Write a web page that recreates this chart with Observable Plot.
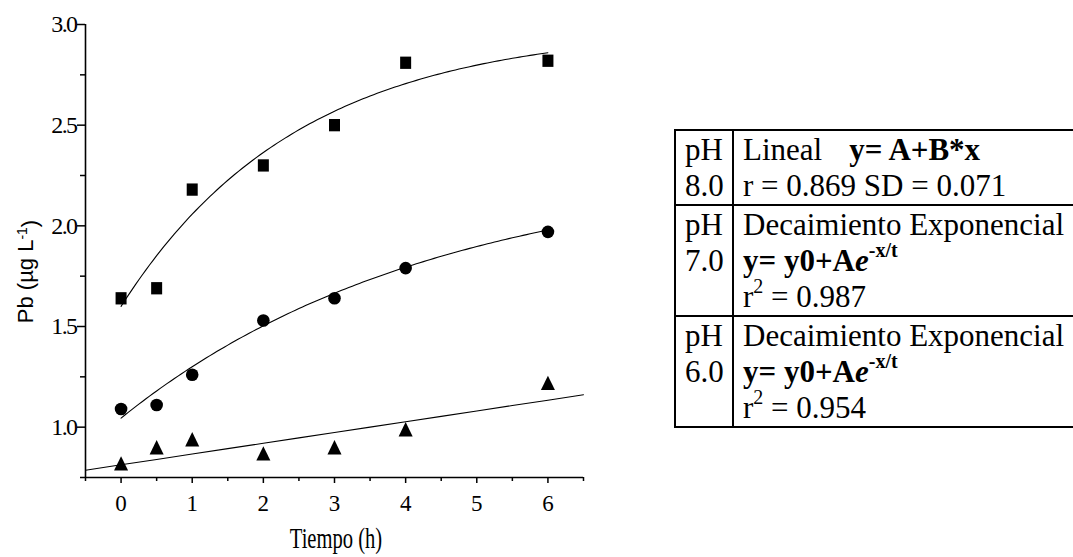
<!DOCTYPE html>
<html>
<head>
<meta charset="utf-8">
<script src="https://cdn.jsdelivr.net/npm/d3@7"></script>
<script src="https://cdn.jsdelivr.net/npm/@observablehq/plot@0.6"></script>
<style>
  html, body { margin: 0; padding: 0; background: #fff; }
  body { position: relative; width: 1073px; height: 557px; overflow: hidden; }
  #chart { position: absolute; left: 0; top: 0; }
  .tbl { position: absolute; left: 674px; top: 129px; width: 460px;
         font-family: "Liberation Serif", "Times New Roman", serif; font-size: 31px; color: #000;
         border-top: 2px solid #000; border-left: 2px solid #000; border-bottom: 2px solid #000; }
  .row { display: flex; box-sizing: border-box; }
  .row + .row { border-top: 2px solid #000; }
  .c1 { width: 58px; flex: none; box-sizing: border-box; border-right: 2px solid #000; padding-left: 9px; padding-top: 0.5px; }
  .c2 { padding-left: 9px; padding-top: 0.5px; }
  .ln { height: 36px; line-height: 36px; white-space: pre; }
  .b { font-weight: bold; }
  .sup { font-size: 20px; position: relative; top: -14px; line-height: 0; }
</style>
</head>
<body>
<div id="chart"></div>
<script>
// Time (h)
const tiempo = [0, 0.5, 1, 2, 3, 4, 6];
// Pb (µg L-1) per series
const pbPH6 = [1.64, 1.69, 2.18, 2.30, 2.50, 2.81, 2.82]; // squares
const pbPH7 = [1.09, 1.11, 1.26, 1.53, 1.64, 1.79, 1.97]; // circles
const pbPH8 = [0.82, 0.90, 0.94, 0.87, 0.90, 0.99, 1.22]; // triangles

// Fit parameters
const fitExpPH6 = [2.984, -1.384, 2.49]; // y0, A, t
const fitExpPH7 = [2.30, -1.255, 4.4];   // y0, A, t
const fitLinPH8 = [0.813, 0.0535];       // A, B

// Axis ticks
const xDomain = [-0.5, 6.5];
const yDomain = [0.75, 3.0];
const xMajor = [0, 1, 2, 3, 4, 5, 6];
const xMinor = [-0.5, 0.5, 1.5, 2.5, 3.5, 4.5, 5.5, 6.5];
const yMajor = [1.0, 1.5, 2.0, 2.5, 3.0];
const yMinor = [0.75, 1.25, 1.75, 2.25, 2.75];

// Table text
const phLabels = [["pH", "8.0"], ["pH", "7.0"], ["pH", "6.0"]];
const fitNames = ["Lineal", "Decaimiento Exponencial", "Decaimiento Exponencial"];
const fitStats = ["r = 0.869 SD = 0.071", "0.987", "0.954"];

const expCurve = ([y0, A, t]) => d3.range(0, 6.0001, 0.05).map(x => ({x, y: y0 + A * Math.exp(-x / t)}));
const linCurve = ([A, B]) => d3.range(xDomain[0], xDomain[1] + 0.0001, 0.5).map(x => ({x, y: A + B * x}));

// Marker shapes (box-centred, slightly taller than wide as in the original)
const tallSquare = { draw(ctx, size) { const k = Math.sqrt(size / Math.PI); const w = 0.86 * k, h = 0.96 * k;
  ctx.moveTo(-w, -h); ctx.lineTo(w, -h); ctx.lineTo(w, h); ctx.lineTo(-w, h); ctx.closePath(); } };
const tallTriangle = { draw(ctx, size) { const k = Math.sqrt(size / Math.PI); const w = 1.17 * k, h = 1.2 * k;
  ctx.moveTo(0, -h); ctx.lineTo(w, h); ctx.lineTo(-w, h); ctx.closePath(); } };

const serif = "'Liberation Serif', 'Times New Roman', serif";
const noText = () => "";

const plot = Plot.plot({
  width: 1073,
  height: 557,
  marginLeft: 85,
  marginRight: 490,
  marginTop: 24,
  marginBottom: 80,
  style: { background: "white", color: "black", overflow: "visible" },
  x: { domain: xDomain },
  y: { domain: yDomain },
  marks: [
    Plot.axisY({ ticks: yMajor, tickFormat: d3.format(".1f"), tickSize: 8, tickPadding: 1, label: null, strokeWidth: 1.5 }),
    Plot.axisY({ ticks: yMinor, tickFormat: noText, tickSize: 5, strokeWidth: 1.5, label: null }),
    Plot.axisX({ ticks: xMajor, tickFormat: d3.format("d"), tickSize: 6, tickPadding: 11, label: null, strokeWidth: 1.5 }),
    Plot.axisX({ ticks: xMinor, tickFormat: noText, tickSize: 4, strokeWidth: 1.5, label: null }),
    Plot.ruleX([xDomain[0]], { stroke: "black", strokeWidth: 1.6 }),
    Plot.ruleY([yDomain[0]], { stroke: "black", strokeWidth: 1.6 }),
    Plot.line(expCurve(fitExpPH6), { x: "x", y: "y", stroke: "black", strokeWidth: 1.1 }),
    Plot.line(expCurve(fitExpPH7), { x: "x", y: "y", stroke: "black", strokeWidth: 1.1 }),
    Plot.line(linCurve(fitLinPH8), { x: "x", y: "y", stroke: "black", strokeWidth: 1.1 }),
    Plot.dot(tiempo, { x: tiempo, y: pbPH6, symbol: tallSquare, r: 6.4, fill: "black", stroke: "none" }),
    Plot.dot(tiempo, { x: tiempo, y: pbPH7, symbol: "circle", r: 6.3, fill: "black", stroke: "none" }),
    Plot.dot(tiempo, { x: tiempo, y: pbPH8, symbol: tallTriangle, r: 6, fill: "black", stroke: "none" })
  ]
});
document.getElementById("chart").appendChild(plot);

// Serif tick labels (inline styles so nothing overrides them)
const svg = d3.select(plot);
svg.selectAll("text").each(function () {
  const t = this.textContent;
  const s = d3.select(this).style("font-family", serif).style("fill", "black");
  if (t.includes(".")) s.style("font-size", "24px").style("letter-spacing", "-1.6px");
  else s.style("font-size", "23px");
});

// Axis titles
const xr = plot.scale("x").range, yr = plot.scale("y").range;
svg.append("text")
  .attr("transform", `translate(${(xr[0] + xr[1]) / 2 + 2},${yr[0] + 71}) scale(0.71,1)`)
  .attr("text-anchor", "middle")
  .style("font-family", serif).style("font-size", "29px")
  .text("Tiempo (h)");
const yl = svg.append("text")
  .attr("transform", `translate(${xr[0] - 52},${(yr[0] + yr[1]) / 2 + 21}) rotate(-90)`)
  .attr("text-anchor", "middle")
  .style("font-family", "'Liberation Sans', Arial, sans-serif").style("font-size", "22px");
yl.append("tspan").text("Pb (\u00b5g L");
yl.append("tspan").attr("dy", "-0.45em").style("font-size", "14px").text("-1");
yl.append("tspan").attr("dy", "0.45em").text(")");

// Table
const tbl = document.createElement("div");
tbl.className = "tbl";
const rowsHtml = [
  `<div class="ln">${fitNames[0]}<span class="b" style="margin-left:27px">y= A+B*x</span></div><div class="ln">${fitStats[0]}</div>`,
  `<div class="ln">${fitNames[1]}</div><div class="ln"><span class="b">y= y0+A<i>e</i><span class="sup">-x/t</span></span></div><div class="ln">r<span class="sup">2</span> = ${fitStats[1]}</div>`,
  `<div class="ln">${fitNames[2]}</div><div class="ln"><span class="b">y= y0+A<i>e</i><span class="sup">-x/t</span></span></div><div class="ln">r<span class="sup">2</span> = ${fitStats[2]}</div>`
];
const rowHeights = [73, 109, 109];
tbl.innerHTML = phLabels.map((ph, i) =>
  `<div class="row" style="height:${rowHeights[i] + (i ? 2 : 0)}px">` +
  `<div class="c1"><div class="ln">${ph[0]}</div><div class="ln">${ph[1]}</div></div>` +
  `<div class="c2">${rowsHtml[i]}</div></div>`).join("");
document.body.appendChild(tbl);
</script>
</body>
</html>
